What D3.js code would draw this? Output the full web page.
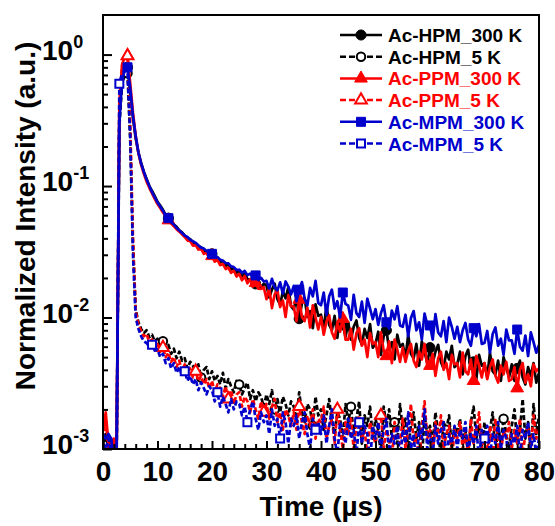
<!DOCTYPE html>
<html>
<head>
<meta charset="utf-8">
<script src="https://cdn.jsdelivr.net/npm/d3@7"></script>
<style>
  body { margin: 0; background: #fff; }
  text { font-family: "Liberation Sans", Arial, sans-serif; font-weight: bold; }
</style>
</head>
<body>
<div id="chart"></div>
<script>
// sampling of the decay traces (µs)
const timeStep = 0.5;

// Ac-HPM, 300 K
const hpm300 = [
  .0011,.0013,.0010,.0012,.0009,.0010,.36,.68,.78,.80,
  .52,.33,.23,.18,.15,.128,.113,.100,.092,.084,
  .076,.071,.066,.060,.057,.054,.051,.049,.046,.0445,
  .042,.0398,.0395,.0370,.0366,.0348,.0342,.0322,.0320,.0303,
  .0305,.0284,.0287,.0264,.0270,.0247,.0253,.0232,.0236,.0219,
  .0228,.0201,.0219,.0196,.0194,.0201,.0180,.0193,.0168,.0181,
  .0175,.0142,.0163,.0181,.0138,.0125,.0158,.0140,.0170,.0122,
  .0115,.0141,.0098,.0128,.0140,.0101,.0112,.0083,.0126,.0103,
  .0105,.0081,.0124,.0088,.0080,.0103,.0070,.0106,.0088,.0071,
  .0092,.0068,.0085,.0095,.0070,.0062,.0082,.0070,.0089,.0059,
  .0063,.0078,.0052,.0072,.0080,.0057,.0065,.0048,.0074,.0060,
  .0063,.0049,.0074,.0053,.0049,.0063,.0043,.0066,.0055,.0045,
  .0059,.0045,.0055,.0062,.0046,.0041,.0055,.0048,.0061,.0042,
  .0044,.0055,.0037,.0051,.0057,.0041,.0046,.0034,.0052,.0043,
  .0045,.0035,.0054,.0039,.0037,.0047,.0033,.0050,.0042,.0035,
  .0044,.0033,.0041,.0047,.0035,.0031,.0042,.0036,.0045,.0032,
  .0038
];

// Ac-HPM, 5 K
const hpm5 = [
  .0010,.0012,.0011,.0010,.0009,.0010,.28,.60,.70,.72,
  .22,.035,.0115,.0092,.0082,.0076,.0080,.0071,.0074,.0066,
  .0069,.0061,.0066,.0057,.0062,.0053,.0058,.0049,.0055,.0047,
  .0049,.0041,.0046,.0043,.0038,.0044,.0035,.0040,.0042,.0034,
  .0039,.0033,.0036,.0031,.0038,.0029,.0034,.0030,.0027,.0033,
  .0031,.0026,.0029,.0032,.0024,.0028,.0023,.0027,.0025,.0021,
  .0026,.0022,.0028,.0020,.0024,.0019,.0025,.0022,.0018,.0023,
  .0021,.0017,.0027,.0019,.0016,.0022,.0020,.0015,.0025,.0018,
  .0020,.0014,.0018,.0024,.0016,.0013,.0019,.0017,.0012,.0022,
  .0016,.0021,.0013,.0017,.0023,.0011,.0018,.0015,.0021,.0012,
  .0017,.0014,.0009,.0021,.0015,.0020,.0012,.0016,.0011,.0022,
  .0014,.0017,.0010,.0015,.0019,.0012,.0016,.0008,.0018,.0013,
  .0015,.0011,.0019,.0013,.0009,.0016,.0014,.0018,.0010,.0015,
  .0013,.0017,.0011,.0014,.0009,.0016,.0021,.0012,.0015,.0010,
  .0016,.0012,.0014,.0019,.0009,.0015,.0011,.0017,.0013,.0010,
  .0015,.0020,.0011,.0014,.0024,.0012,.0016,.0009,.0022,.0013,
  .0018
];

// Ac-PPM, 300 K
const ppm300 = [
  .0014,.0019,.0011,.0009,.0012,.0010,.42,.84,.96,.98,
  .60,.36,.24,.178,.145,.124,.108,.097,.088,.080,
  .073,.068,.063,.059,.055,.052,.0495,.047,.045,.043,
  .041,.0385,.0382,.0352,.0356,.0329,.0334,.0305,.0311,.0286,
  .0294,.0266,.0274,.0250,.0256,.0234,.0240,.0219,.0227,.0205,
  .0215,.0192,.0207,.0182,.0196,.0172,.0184,.0166,.0165,.0170,
  .0138,.0168,.0118,.0150,.0162,.0120,.0135,.0101,.0148,.0122,
  .0121,.0094,.0137,.0101,.0094,.0119,.0084,.0124,.0100,.0081,
  .0101,.0074,.0093,.0104,.0077,.0069,.0091,.0078,.0098,.0068,
  .0068,.0082,.0057,.0076,.0083,.0061,.0068,.0050,.0076,.0063,
  .0065,.0050,.0077,.0056,.0051,.0066,.0045,.0068,.0057,.0046,
  .0059,.0046,.0056,.0063,.0047,.0042,.0055,.0048,.0063,.0043,
  .0043,.0053,.0036,.0049,.0055,.0040,.0045,.0034,.0052,.0044,
  .0045,.0035,.0054,.0039,.0037,.0048,.0033,.0051,.0043,.0035,
  .0045,.0034,.0042,.0048,.0036,.0032,.0043,.0037,.0046,.0033,
  .0034,.0042,.0029,.0040,.0045,.0032,.0037,.0030,.0044,.0039,
  .0041
];

// Ac-PPM, 5 K
const ppm5 = [
  .0012,.0017,.0010,.0011,.0010,.0009,.40,.82,.95,.98,
  .30,.040,.0112,.0088,.0079,.0072,.0075,.0065,.0068,.0060,
  .0063,.0055,.0059,.0050,.0054,.0046,.0050,.0042,.0047,.0039,
  .0044,.0038,.0041,.0035,.0039,.0033,.0036,.0031,.0034,.0029,
  .0033,.0027,.0031,.0029,.0025,.0030,.0024,.0028,.0022,.0026,
  .0027,.0021,.0025,.0023,.0019,.0024,.0020,.0017,.0023,.0019,
  .0022,.0017,.0021,.0024,.0016,.0019,.0014,.0020,.0018,.0015,
  .0019,.0014,.0021,.0016,.0013,.0018,.0015,.0020,.0012,.0017,
  .0016,.0021,.0012,.0015,.0017,.0011,.0020,.0014,.0010,.0016,
  .0013,.0017,.0010,.0015,.0018,.0012,.0014,.0009,.0016,.0013,
  .0011,.0015,.0018,.0010,.0014,.0012,.0008,.0016,.0013,.0011,
  .0017,.0010,.0014,.0022,.0011,.0013,.0008,.0015,.0023,.0012,
  .0014,.0009,.0016,.0012,.0018,.0010,.0013,.0015,.0008,.0014,
  .0012,.0016,.0010,.0013,.0009,.0017,.0011,.0014,.0019,.0010,
  .0013,.0008,.0015,.0011,.0017,.0012,.0009,.0014,.0012,.0016,
  .0010,.0014,.0011,.0017,.0009,.0013,.0015,.0010,.0018,.0012,
  .0014
];

// Ac-MPM, 300 K
const mpm300 = [
  .0013,.0012,.0013,.0012,.0008,.0010,.30,.64,.76,.80,
  .55,.34,.24,.18,.148,.128,.112,.100,.090,.082,
  .075,.070,.065,.060,.057,.053,.051,.048,.046,.044,
  .042,.041,.039,.038,.037,.0355,.034,.0335,.032,.031,
  .0305,.029,.0288,.0275,.027,.026,.0258,.0245,.0242,.023,
  .0231,.0219,.0226,.0210,.0216,.0201,.0209,.0193,.0200,.0188,
  .0190,.0166,.0197,.0170,.0161,.0185,.0152,.0188,.0172,.0150,
  .0174,.0133,.0163,.0186,.0139,.0124,.0168,.0145,.0190,.0129,
  .0124,.0155,.0105,.0145,.0163,.0117,.0133,.0100,.0155,.0127,
  .0123,.0096,.0149,.0108,.0101,.0132,.0091,.0139,.0117,.0097,
  .0116,.0088,.0108,.0124,.0092,.0082,.0113,.0097,.0122,.0087,
  .0085,.0105,.0072,.0099,.0112,.0080,.0092,.0068,.0107,.0088,
  .0087,.0068,.0106,.0077,.0072,.0094,.0065,.0100,.0085,.0069,
  .0085,.0065,.0080,.0091,.0068,.0061,.0083,.0072,.0089,.0063,
  .0064,.0079,.0054,.0075,.0084,.0061,.0069,.0052,.0081,.0067,
  .0067,.0053,.0081,.0060,.0056,.0073,.0051,.0077,.0065,.0054,
  .0062
];

// Ac-MPM, 5 K
const mpm5 = [
  .0011,.0010,.0012,.0009,.0010,.0008,.60,.72,.75,.74,
  .24,.030,.0100,.0082,.0072,.0066,.0064,.0060,.0062,.0056,
  .0057,.0050,.0053,.0045,.0049,.0041,.0045,.0038,.0042,.0036,
  .0039,.0033,.0036,.0031,.0034,.0028,.0032,.0029,.0026,.0030,
  .0028,.0023,.0027,.0021,.0025,.0022,.0019,.0024,.0020,.0023,
  .0022,.0018,.0021,.0016,.0020,.0023,.0017,.0014,.0019,.0016,
  .0018,.0013,.0020,.0015,.0017,.0012,.0019,.0016,.0011,.0017,
  .0015,.0018,.0012,.0016,.0019,.0013,.0010,.0017,.0014,.0016,
  .0013,.0018,.0011,.0015,.0020,.0012,.0009,.0016,.0014,.0011,
  .0017,.0012,.0014,.0009,.0016,.0011,.0015,.0013,.0008,.0015,
  .0012,.0016,.0010,.0014,.0017,.0009,.0013,.0011,.0015,.0008,
  .0014,.0011,.0019,.0010,.0013,.0007,.0015,.0012,.0020,.0010,
  .0013,.0009,.0015,.0011,.0014,.0016,.0008,.0013,.0011,.0015,
  .0010,.0014,.0012,.0016,.0009,.0013,.0011,.0015,.0008,.0014,
  .0012,.0015,.0009,.0013,.0011,.0016,.0010,.0014,.0012,.0008,
  .0013,.0011,.0015,.0009,.0014,.0012,.0016,.0010,.0013,.0009,
  .0012
];

// times (µs) at which the symbols sit on each trace
const markers300 = [4.5, 12, 20, 28, 36, 44, 52, 60, 68, 76];
const markersHpm5 = [4.5, 11, 18, 25, 31.5, 38.5, 45.5, 53.5, 63, 73.5];
const markersPpm5 = [4.5, 11, 17, 23, 29.5, 36, 43, 51, 60.5, 71.5];
const markersMpm5 = [3, 9, 15, 21, 26.5, 32.5, 39, 47, 57.5, 70];

const seriesNames = ["Ac-HPM_300 K", "Ac-HPM_5 K", "Ac-PPM_300 K", "Ac-PPM_5 K", "Ac-MPM_300 K", "Ac-MPM_5 K"];
const xTicks = [0, 10, 20, 30, 40, 50, 60, 70, 80];
const yTickExponents = [0, -1, -2, -3];

const series = [
  { name: seriesNames[0], values: hpm300, marks: markers300, color: "#000000", dashed: false, symbol: d3.symbolCircle, open: false },
  { name: seriesNames[1], values: hpm5, marks: markersHpm5, color: "#000000", dashed: true, symbol: d3.symbolCircle, open: true },
  { name: seriesNames[2], values: ppm300, marks: markers300, color: "#ff0000", dashed: false, symbol: d3.symbolTriangle, open: false },
  { name: seriesNames[3], values: ppm5, marks: markersPpm5, color: "#ff0000", dashed: true, symbol: d3.symbolTriangle, open: true },
  { name: seriesNames[4], values: mpm300, marks: markers300, color: "#0000cc", dashed: false, symbol: d3.symbolSquare, open: false },
  { name: seriesNames[5], values: mpm5, marks: markersMpm5, color: "#0000cc", dashed: true, symbol: d3.symbolSquare, open: true },
];

// set the dimensions and margins of the graph
const margin = { top: 15, right: 16, bottom: 77, left: 103 },
  width = 555 - margin.left - margin.right,
  height = 526 - margin.top - margin.bottom;

const svg = d3
  .select("#chart")
  .append("svg")
  .attr("width", 555)
  .attr("height", 526)
  .append("g")
  .attr("transform", `translate(${margin.left},${margin.top})`);

const x = d3.scaleLinear().domain([0, 80]).range([0, width]);
const y = d3.scaleLog().domain([1e-3, 2]).range([height, 0]);

svg
  .append("clipPath")
  .attr("id", "plot-clip")
  .append("rect")
  .attr("width", width)
  .attr("height", height);

// symbol sizes (area)
const symbolArea = (s) => {
  if (s.symbol === d3.symbolTriangle) return s.open ? 60 : 70;
  if (s.symbol === d3.symbolSquare) return s.open ? 64 : 81;
  return s.open ? 56 : 80;
};

const line = d3
  .line()
  .x((d) => x(d.t))
  .y((d) => y(d.v));

const plot = svg.append("g").attr("clip-path", "url(#plot-clip)");

series.forEach((s) => {
  const pts = s.values.map((v, i) => ({ t: i * timeStep, v: v }));
  plot
    .append("path")
    .datum(pts)
    .attr("fill", "none")
    .attr("stroke", s.color)
    .attr("stroke-width", 2.7)
    .attr("stroke-linejoin", "round")
    .attr("stroke-dasharray", s.dashed ? "5,2.5" : null)
    .attr("d", line);

  const markPts = s.marks.map((t) => pts[Math.round(t / timeStep)]);
  plot
    .selectAll(null)
    .data(markPts)
    .join("path")
    .attr("transform", (d) => `translate(${x(d.t)},${y(d.v)})`)
    .attr("d", d3.symbol().type(s.symbol).size(symbolArea(s)))
    .attr("fill", s.open ? "#fff" : s.color)
    .attr("stroke", s.color)
    .attr("stroke-width", s.open ? 2 : 1);
});

// frame
svg
  .append("rect")
  .attr("width", width)
  .attr("height", height)
  .attr("fill", "none")
  .attr("stroke", "#000")
  .attr("stroke-width", 2);

// X axis, ticks pointing inward
const xAxis = svg
  .append("g")
  .attr("transform", `translate(0,${height})`)
  .call(d3.axisBottom(x).tickValues(xTicks).tickSize(-8).tickPadding(12).tickFormat(d3.format("d")));
svg
  .append("g")
  .attr("transform", `translate(0,${height})`)
  .call(d3.axisBottom(x).tickValues(d3.range(0, 81, 2).filter((d) => d % 10 !== 0)).tickSize(-5).tickFormat(""));

// Y axis, majors + minors
svg.append("g").call(d3.axisLeft(y).tickValues(yTickExponents.map((e) => Math.pow(10, e))).tickSize(-9).tickFormat(""));
const minors = [];
[-3, -2, -1, 0].forEach((e) => {
  for (let k = 2; k <= 9; k++) {
    const v = k * Math.pow(10, e);
    if (v < 2) minors.push(v);
  }
});
svg.append("g").call(d3.axisLeft(y).tickValues(minors).tickSize(-5).tickFormat(""));

svg.selectAll(".domain").attr("stroke", "none");
svg.selectAll(".tick line").attr("stroke", "#000").attr("stroke-width", 2);
xAxis.selectAll(".tick text").attr("font-size", 28).attr("fill", "#000").attr("font-family", "Liberation Sans, Arial, sans-serif").attr("font-weight", "bold");

// y tick labels as 10^n
const yLabels = svg
  .selectAll(".ylab")
  .data(yTickExponents)
  .join("text")
  .attr("class", "ylab")
  .attr("x", 42 - margin.left)
  .attr("y", (d) => y(Math.pow(10, d)) + 5)
  .attr("font-size", 28)
  .attr("fill", "#000");
yLabels.append("tspan").text("10");
yLabels
  .append("tspan")
  .attr("dy", -12)
  .attr("font-size", 18)
  .text((d) => (d === 0 ? "0" : "-" + -d));

// axis titles
svg
  .append("text")
  .attr("x", width / 2)
  .attr("y", 516 - margin.top)
  .attr("text-anchor", "middle")
  .attr("font-size", 28)
  .text("Time (µs)");

svg
  .append("text")
  .attr("transform", "rotate(-90)")
  .attr("x", -(216 - margin.top))
  .attr("y", 35 - margin.left)
  .attr("text-anchor", "middle")
  .attr("font-size", 28)
  .text("Normalized Intensity (a.u.)");

// legend
const legend = svg
  .append("g")
  .attr("transform", `translate(${340 - margin.left},${35 - margin.top})`);
series.forEach((s, i) => {
  const row = legend.append("g").attr("transform", `translate(0,${i * 21.7})`);
  row
    .append("line")
    .attr("x1", 0)
    .attr("x2", 42)
    .attr("stroke", s.color)
    .attr("stroke-width", 2.5)
    .attr("stroke-dasharray", s.dashed ? "6,3" : null);
  row
    .append("path")
    .attr("transform", "translate(21,0)")
    .attr("d", d3.symbol().type(s.symbol).size(symbolArea(s)))
    .attr("fill", s.open ? "#fff" : s.color)
    .attr("stroke", s.color)
    .attr("stroke-width", s.open ? 2 : 1);
  row
    .append("text")
    .attr("x", 48)
    .attr("y", 7)
    .attr("font-size", 19)
    .attr("fill", s.color)
    .text(s.name);
});
</script>
</body>
</html>
